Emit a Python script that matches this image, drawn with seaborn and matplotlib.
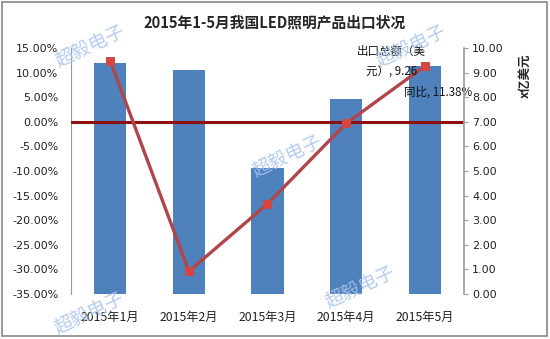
import matplotlib
matplotlib.use("Agg")
import matplotlib.pyplot as plt
import seaborn as sns
import pandas as pd
from matplotlib.patches import Rectangle

months = ["2015年1月", "2015年2月", "2015年3月", "2015年4月", "2015年5月"]
yoy_pct = [11.85, 10.5, -9.5, 4.7, 11.38]
export_total = [9.48, 0.92, 3.66, 6.93, 9.26]
left_ticks = [15, 10, 5, 0, -5, -10, -15, -20, -25, -30, -35]
right_ticks = [0, 1, 2, 3, 4, 5, 6, 7, 8, 9, 10]

sns.set_theme(style="white")
plt.rcParams["font.family"] = ["DejaVu Sans", "Noto Sans CJK SC"]

df = pd.DataFrame({"month": months, "yoy": yoy_pct, "export": export_total})

fig = plt.figure(figsize=(5.5, 3.39), dpi=100)
fig.patch.set_facecolor("white")
ax = fig.add_axes([0.129, 0.133, 0.7146, 0.7254])

sns.barplot(data=df, x="month", y="yoy", ax=ax, color="#4F81BD",
            saturation=1, width=0.41)
ymin = -35
for p, v in zip(ax.patches, yoy_pct):
    p.set_y(ymin)
    p.set_height(v - ymin)
    p.set_edgecolor("none")
ax.set_ylim(-35, 15)
ax.set_xlim(-0.5, 4.5)
ax.set_yticks(left_ticks)
ax.set_yticklabels([f"{t:.2f}%" for t in left_ticks], fontsize=8, color="#222222")
ax.set_xticks(range(len(months)))
ax.set_xticklabels(months, fontsize=8.8, family=["Noto Sans CJK SC"], color="#222222")
ax.set_xlabel("")
ax.set_ylabel("")
ax.tick_params(axis="y", length=0, pad=9)
ax.tick_params(axis="x", length=0, pad=12)
for s in ["top", "right", "bottom"]:
    ax.spines[s].set_visible(False)
ax.spines["left"].set_color("#9a9a9a")
ax.spines["left"].set_linewidth(0.8)
ax.axhline(0, color="#8E1010", linewidth=2.2, zorder=3)

ax2 = ax.twinx()
sns.lineplot(data=df, x="month", y="export", ax=ax2, color="#B0454A",
             linewidth=2.4, marker="s", markersize=6,
             markerfacecolor="#D9443F", markeredgecolor="#C0504D", zorder=4)
ax2.set_ylim(0, 10)
ax2.set_yticks(right_ticks)
ax2.set_yticklabels([f"{t:.2f}" for t in right_ticks], fontsize=8, color="#222222")
ax2.set_ylabel("")
ax2.set_xlabel("")
ax2.tick_params(axis="y", length=3, width=0.8, color="#9a9a9a", pad=3, direction="out")
for s in ["top", "left", "bottom"]:
    ax2.spines[s].set_visible(False)
ax2.spines["right"].set_color("#9a9a9a")
ax2.spines["right"].set_linewidth(1.2)

fig.text(0.5, 0.935, "2015年1-5月我国LED照明产品出口状况", ha="center", va="center",
         fontsize=10.6, fontweight="bold", family=["Noto Sans CJK SC"])
fig.text(0.955, 0.778, "x亿美元", rotation=90, ha="center", va="center",
         fontsize=9, fontweight="bold", family=["Noto Sans CJK SC"])

ax2.annotate("出口总额（美\n元）, 9.26", xy=(4, export_total[4]), xytext=(-24, 3),
             textcoords="offset points", ha="center", va="center", fontsize=8.3,
             family=["Noto Sans CJK SC"], linespacing=1.75, color="#111111",
             multialignment="center", zorder=6)
ax.annotate(f"同比, {yoy_pct[4]:.2f}%", xy=(4, yoy_pct[4]), xytext=(9.5, -19),
            textcoords="offset points", ha="center", va="center", fontsize=8.3,
            family=["Noto Sans CJK SC"], color="#111111", zorder=6)

wm_kw = dict(color="#A9C3EE", fontsize=13.5, rotation=25, alpha=0.85,
             family=["Noto Sans CJK SC"], ha="center", va="center")
fig.text(0.164, 0.861, "超毅电子", **wm_kw)
fig.text(0.522, 0.537, "超毅电子", **wm_kw)
fig.text(0.748, 0.861, "超毅电子", **wm_kw)
fig.text(0.655, 0.15, "超毅电子", **wm_kw)
fig.text(0.162, 0.075, "超毅电子", **wm_kw)

fig.patches.append(Rectangle((0.004, 0.008), 0.99, 0.985, transform=fig.transFigure,
                             fill=False, edgecolor="#888888", linewidth=1.2))

fig.savefig("out.png", dpi=100)
